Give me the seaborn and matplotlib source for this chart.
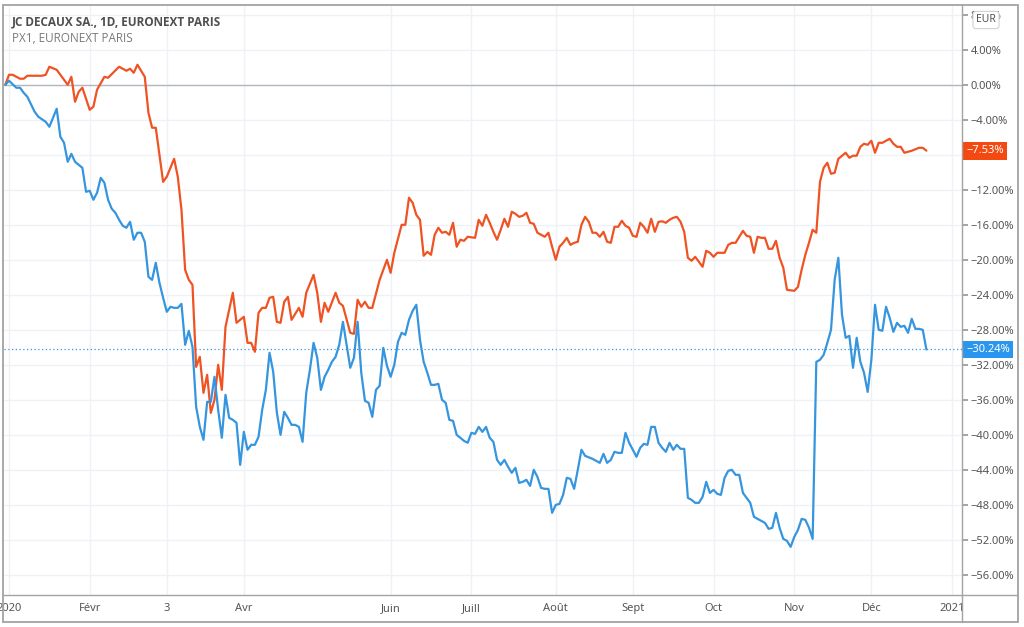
import numpy as np
import pandas as pd
import seaborn as sns
import matplotlib.pyplot as plt
from matplotlib.lines import Line2D
from matplotlib.patches import Rectangle
from matplotlib.transforms import blended_transform_factory

# trading session of 2020 (0 = 2 janv.), -1 = base close 31 dec 2019
px1_day = [-1, 0, 1, 3, 4, 5, 7, 9, 10, 11, 13, 16, 17, 18, 19, 20, 22, 23, 24, 26,
           27, 30, 31, 32, 33, 34, 35, 37, 38, 39, 40, 42, 43, 45, 46, 47, 48, 49, 50, 51,
           52, 53, 54, 55, 56, 57, 58, 59, 61, 62, 64, 65, 66, 67, 68, 69, 70, 71, 72, 73,
           74, 75, 76, 77, 79, 80, 81, 83, 84, 85, 86, 87, 89, 90, 91, 93, 94, 95, 96, 97,
           98, 99, 101, 103, 104, 105, 107, 108, 109, 110, 111, 112, 113, 114, 115, 116, 117, 118, 119, 120,
           121, 122, 123, 124, 125, 127, 128, 129, 130, 131, 132, 133, 134, 135, 136, 137, 138, 139, 140, 141,
           142, 143, 144, 146, 147, 148, 149, 150, 151, 152, 153, 154, 155, 156, 157, 158, 159, 160, 161, 162,
           163, 164, 165, 166, 167, 168, 169, 170, 171, 172, 173, 174, 175, 176, 177, 178, 179, 180, 181, 182,
           183, 184, 185, 186, 187, 188, 189, 190, 191, 192, 193, 195, 196, 197, 198, 199, 200, 201, 202, 203,
           204, 205, 206, 207, 208, 209, 210, 211, 212, 214, 215, 216, 217, 218, 219, 220, 221, 222, 223, 224,
           225, 226, 227, 228, 229, 230, 231, 232, 233, 234, 235, 236, 237, 238, 239, 240, 241, 242, 243, 244,
           246, 248, 249, 250]
px1_pct = [0.0, 1.14, 1.14, 0.69, 0.69, 1.03, 1.03, 1.03, 1.14, 2.06, 1.71, 0.0, 0.91, -1.94, -0.8, -0.34, -2.86, -2.51, -0.57, 0.91,
           0.80, 2.06, 1.83, 1.60, 1.83, 1.37, 2.29, 0.91, -3.20, -4.91, -4.91, -11.09, -10.51, -8.46, -10.51, -14.29, -21.14, -22.29, -22.86, -32.23,
           -31.09, -35.20, -33.14, -37.49, -36.00, -32.00, -34.86, -27.66, -23.77, -27.20, -26.51, -29.49, -29.49, -30.51, -26.06, -25.49, -25.49, -24.34, -24.23, -27.09,
           -27.20, -24.80, -24.23, -26.86, -25.49, -26.51, -23.77, -21.71, -23.77, -27.09, -24.91, -25.94, -23.77, -24.91, -25.26, -28.34, -28.46, -24.57, -25.37, -24.80,
           -25.49, -25.49, -22.29, -20.00, -21.49, -19.20, -16.00, -16.00, -12.91, -13.49, -14.86, -15.43, -19.54, -19.09, -19.43, -17.14, -16.34, -16.91, -16.80, -17.14,
           -15.77, -18.51, -17.71, -17.83, -17.37, -17.49, -15.43, -16.11, -14.86, -15.77, -16.80, -17.71, -16.57, -15.31, -16.23, -14.51, -14.74, -15.09, -14.97, -14.63,
           -15.77, -15.89, -16.91, -17.37, -16.91, -18.51, -20.00, -18.51, -18.06, -17.49, -18.29, -18.06, -17.94, -16.00, -15.09, -15.66, -16.91, -16.91, -17.37, -16.80,
           -17.94, -18.06, -16.23, -16.23, -15.54, -16.11, -16.34, -17.26, -17.37, -15.77, -16.23, -16.91, -15.31, -16.80, -15.66, -15.60, -15.77, -15.43, -15.20, -15.09,
           -15.66, -16.80, -19.77, -20.11, -19.66, -20.23, -20.80, -18.97, -19.20, -19.66, -19.20, -19.20, -18.29, -18.06, -18.06, -17.37, -16.69, -17.26, -17.37, -19.20,
           -17.37, -17.49, -17.49, -18.74, -18.74, -17.83, -19.77, -20.91, -23.43, -23.54, -23.09, -21.14, -19.43, -18.06, -16.57, -16.91, -11.09, -9.49, -8.91, -10.17,
           -10.06, -8.46, -8.11, -7.77, -8.34, -8.11, -8.11, -7.09, -6.74, -6.86, -6.40, -7.77, -6.63, -6.63, -6.40, -6.17, -6.74, -7.09, -7.09, -7.77,
           -7.54, -7.20, -7.20, -7.53]

decaux_day = [-1, 0, 2, 3, 4, 5, 7, 8, 10, 11, 13, 14, 15, 16, 17, 18, 19, 20, 21, 22,
              23, 24, 25, 26, 27, 28, 29, 30, 31, 32, 33, 34, 35, 36, 37, 38, 39, 40, 41, 42,
              43, 44, 45, 46, 47, 48, 49, 50, 51, 52, 53, 54, 55, 56, 57, 58, 59, 60, 61, 62,
              63, 64, 65, 66, 67, 68, 69, 70, 71, 72, 73, 74, 75, 76, 77, 78, 79, 80, 81, 82,
              83, 84, 85, 86, 87, 88, 89, 90, 91, 92, 93, 94, 95, 96, 97, 98, 99, 100, 101, 102,
              103, 104, 105, 106, 107, 108, 109, 110, 111, 112, 113, 114, 115, 116, 117, 118, 119, 120, 121, 122,
              123, 124, 125, 126, 127, 128, 129, 130, 131, 132, 133, 134, 135, 136, 137, 138, 139, 140, 141, 142,
              143, 144, 145, 146, 147, 148, 149, 150, 151, 152, 153, 154, 155, 156, 157, 159, 160, 161, 162, 163,
              164, 165, 166, 167, 168, 169, 170, 171, 172, 173, 174, 175, 176, 177, 178, 179, 180, 181, 182, 183,
              184, 185, 186, 187, 188, 189, 190, 191, 192, 193, 194, 195, 196, 197, 198, 199, 200, 201, 202, 203,
              204, 205, 206, 207, 208, 209, 210, 211, 212, 213, 214, 215, 216, 217, 218, 219, 220, 221, 222, 223,
              224, 225, 226, 227, 228, 229, 230, 231, 232, 233, 234, 235, 236, 237, 238, 239, 240, 241, 242, 243,
              244, 245, 246, 247, 248, 249, 250]
decaux_pct = [0.0, 0.46, -0.34, -0.34, -0.91, -1.37, -3.09, -3.66, -4.23, -4.80, -2.74, -5.94, -6.63, -8.80, -7.89, -8.80, -9.14, -9.49, -12.23, -12.11,
              -13.14, -12.34, -10.63, -11.20, -13.14, -14.17, -14.63, -15.43, -16.11, -16.34, -15.66, -17.71, -16.91, -16.91, -17.94, -21.94, -22.29, -20.34, -22.63, -24.34,
              -25.94, -25.37, -25.49, -25.49, -25.03, -29.71, -28.11, -29.94, -36.80, -39.09, -40.57, -36.23, -36.23, -33.37, -37.14, -40.34, -35.43, -38.06, -38.29, -38.63,
              -43.43, -39.66, -41.71, -41.14, -41.14, -40.23, -37.14, -34.86, -30.63, -32.80, -37.49, -40.00, -37.37, -38.06, -38.86, -38.86, -39.09, -40.80, -35.20, -32.57,
              -29.49, -31.20, -34.86, -33.37, -32.57, -31.66, -31.09, -29.71, -27.09, -29.71, -32.34, -31.20, -27.09, -32.91, -36.11, -36.34, -37.94, -34.86, -34.40, -30.06,
              -32.11, -33.37, -32.00, -29.37, -28.34, -28.57, -26.86, -25.83, -25.14, -29.14, -31.66, -32.91, -34.29, -34.29, -34.17, -36.00, -36.34, -38.29, -38.40, -40.00,
              -40.34, -40.69, -40.91, -39.77, -39.89, -39.09, -39.66, -39.09, -40.34, -40.80, -42.86, -43.43, -42.86, -43.66, -44.34, -43.77, -45.49, -45.37, -45.14, -45.83,
              -44.00, -44.80, -46.06, -46.17, -46.17, -48.91, -48.00, -47.89, -46.86, -44.91, -45.03, -46.17, -44.00, -41.71, -42.40, -42.74, -42.97, -43.20, -42.17, -43.20,
              -42.86, -41.94, -42.06, -42.06, -39.77, -40.91, -41.71, -42.51, -41.49, -41.03, -41.14, -39.09, -39.09, -40.91, -41.49, -41.94, -40.91, -41.71, -41.14, -41.60,
              -41.60, -47.20, -47.43, -47.77, -47.77, -47.09, -45.37, -46.63, -46.29, -46.74, -46.86, -44.91, -44.11, -44.00, -44.57, -44.57, -46.63, -47.20, -47.77, -49.37,
              -49.60, -49.83, -50.06, -50.74, -50.63, -48.91, -50.63, -51.89, -52.11, -52.80, -51.66, -50.86, -49.60, -49.71, -50.60, -51.89, -31.66, -31.43, -30.86, -29.49,
              -28.00, -22.29, -19.77, -26.29, -28.91, -28.69, -32.34, -28.91, -31.66, -32.91, -35.09, -31.43, -25.14, -28.00, -28.11, -25.37, -26.63, -28.23, -27.20, -27.66,
              -27.54, -28.34, -26.74, -27.89, -27.89, -28.00, -30.24]

holidays = ["2020-04-10", "2020-04-13", "2020-05-01", "2020-12-25", "2021-01-01"]
tick_dates = ["2020-01-02", "2020-02-03", "2020-03-03", "2020-04-01", "2020-06-01", "2020-07-01",
              "2020-08-03", "2020-09-01", "2020-10-01", "2020-11-02", "2020-12-01", "2021-01-04"]
tick_labels = ["2020", "Févr", "3", "Avr", "Juin", "Juill", "Août", "Sept", "Oct", "Nov", "Déc", "2021"]
y_ticks = list(range(-56, 9, 4))

orange = "#ef5323"
blue = "#3595de"
W, H = 1024, 627

sns.set_theme(style="white")
plt.rcParams["font.family"] = ["Noto Sans", "DejaVu Sans"]

sessions = pd.bdate_range("2020-01-02", "2021-01-29", freq="C", holidays=holidays)
tick_pos = [sessions.searchsorted(pd.Timestamp(d)) for d in tick_dates]

df = pd.concat([
    pd.DataFrame({"session": px1_day, "pct": px1_pct, "symbol": "PX1"}),
    pd.DataFrame({"session": decaux_day, "pct": decaux_pct, "symbol": "DEC"}),
])

fig = plt.figure(figsize=(W / 100, H / 100), dpi=100)
ax = fig.add_axes([4 / W, 1 - 595 / H, (962 - 4) / W, (595 - 6) / H])

sns.lineplot(data=df, x="session", y="pct", hue="symbol", hue_order=["PX1", "DEC"],
             palette={"PX1": orange, "DEC": blue}, estimator=None, legend=False,
             lw=1.6, ax=ax)

ax.set_xlim(-1.36, 259.7)
ax.set_ylim(-58.3, 9.0)
ax.axhline(0, color="#b4b7bf", lw=1, zorder=1)
ax.axhline(decaux_pct[-1], color=blue, lw=0.9, ls=(0, (1, 2)), zorder=1)

ax.set_xticks(tick_pos)
ax.set_xticklabels(tick_labels)
ax.set_yticks(y_ticks)
ax.set_yticklabels([f"{v:.2f}%".replace("-", "\u2212") for v in y_ticks])
ax.yaxis.tick_right()
ax.grid(True, color="#eff1f5", lw=1)
ax.set_xlabel("")
ax.set_ylabel("")
for s in ax.spines.values():
    s.set_visible(False)
ax.tick_params(axis="x", length=4, direction="inout", color="#999999",
               labelsize=8, labelcolor="#555555", pad=4)
ax.tick_params(axis="y", length=4, direction="out", color="#999999",
               labelsize=8, labelcolor="#555555", pad=2)

# last value tags on the price scale
tr = blended_transform_factory(ax.transAxes, ax.transData)
for val, col in [(px1_pct[-1], "#f44a11"), (decaux_pct[-1], "#2a96ee")]:
    ax.text(1.0 + 4 / 958, val, f"{val:.2f}%".replace("-", "\u2212"), transform=tr,
            ha="left", va="center", fontsize=8, color="white", clip_on=False, zorder=6,
            bbox=dict(boxstyle="square,pad=0.3", fc=col, ec="none"))

fig.text(986 / W, 1 - 20 / H, "EUR", ha="center", va="center", fontsize=7.5, color="#555555",
         bbox=dict(boxstyle="round,pad=0.3", fc="white", ec="#cfd2d8", lw=0.8))

fig.text(12 / W, 1 - 22 / H, "JC DECAUX SA., 1D, EURONEXT PARIS", fontsize=8.5,
         fontweight="bold", family=["Open Sans", "DejaVu Sans"], color="#4f4f4f", va="center")
fig.text(12 / W, 1 - 38 / H, "PX1, EURONEXT PARIS", fontsize=8.5,
         family=["Open Sans", "DejaVu Sans"], color="#7a7a7a", va="center")

# the time-axis corner under the price scale hides the end of "2021"
fig.add_artist(Rectangle((963 / W, 1 - 621 / H), (1017 - 963) / W, (621 - 596) / H,
                         transform=fig.transFigure, fc="white", ec="none", zorder=2))

# outer frame and panel dividers
frame = "#a3a3a3"
fig.add_artist(Rectangle((3 / W, 1 - 622 / H), (1018 - 3) / W, (622 - 5) / H,
                         transform=fig.transFigure, fill=False, ec=frame, lw=1.3, zorder=3))
fig.add_artist(Line2D([962 / W, 962 / W], [1 - 5 / H, 1 - 622 / H], transform=fig.transFigure,
                      color=frame, lw=1, zorder=3))
fig.add_artist(Line2D([3 / W, 1018 / W], [1 - 595 / H, 1 - 595 / H], transform=fig.transFigure,
                      color=frame, lw=1, zorder=3))

fig.savefig("out.png", dpi=100)
